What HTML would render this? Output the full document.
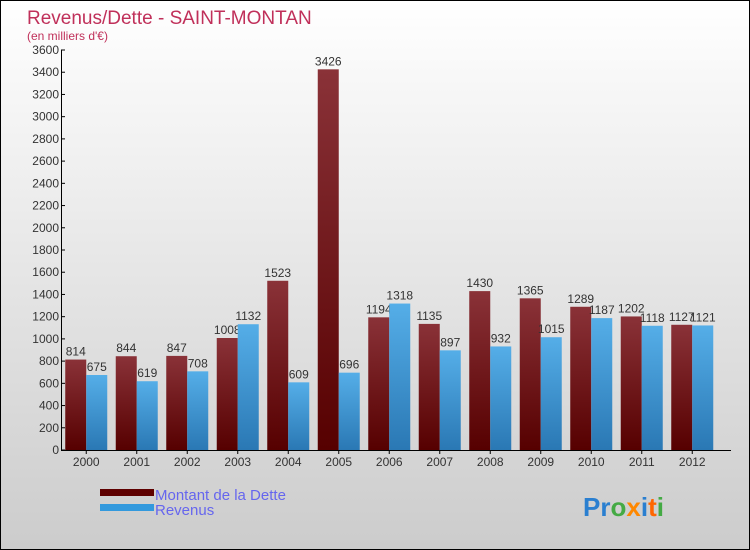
<!DOCTYPE html>
<html><head><meta charset="utf-8"><style>
body{margin:0;width:750px;height:550px;overflow:hidden}
#c{position:relative;width:748px;height:548px;border:1px solid #000;background:linear-gradient(#fff,#ccc);font-family:"Liberation Sans",sans-serif}
</style></head><body>
<div id="c">
<svg id="s" width="748" height="548" style="position:absolute;left:0;top:0">
<defs>
<linearGradient id="gd" x1="0" y1="0" x2="0" y2="1"><stop offset="0" stop-color="#8a3238"/><stop offset="1" stop-color="#560000"/></linearGradient>
<linearGradient id="gr" x1="0" y1="0" x2="0" y2="1"><stop offset="0" stop-color="#55aee8"/><stop offset="1" stop-color="#2a78b4"/></linearGradient>
</defs>
<text x="26" y="23" font-size="19" fill="#c0305a">Revenus/Dette - SAINT-MONTAN</text>
<text x="26" y="39" font-size="12" fill="#c0305a">(en milliers d'€)</text>
<g id="g"></g>
<rect x="99" y="488" width="54" height="7" fill="#5e0000"/>
<rect x="99" y="503" width="54" height="7" fill="#3399dd"/>
<text x="154" y="499" font-size="15" fill="#6666ee">Montant de la Dette</text>
<text x="154" y="514" font-size="15" fill="#6666ee">Revenus</text>
<text x="582" y="515" font-size="26" font-weight="bold"><tspan fill="#2a7fd0">Pr</tspan><tspan fill="#44aa44">o</tspan><tspan fill="#ff8800">x</tspan><tspan fill="#2a7fd0">i</tspan><tspan fill="#ff6600">t</tspan><tspan fill="#44aa44">i</tspan></text>
</svg>
</div>
<script>
const categories=["2000","2001","2002","2003","2004","2005","2006","2007","2008","2009","2010","2011","2012"];
const dette=[814,844,847,1008,1523,3426,1194,1135,1430,1365,1289,1202,1127];
const revenus=[675,619,708,1132,609,696,1318,897,932,1015,1187,1118,1121];
const yTicks=[0,200,400,600,800,1000,1200,1400,1600,1800,2000,2200,2400,2600,2800,3000,3200,3400,3600];
const NS="http://www.w3.org/2000/svg";
const g=document.getElementById('g');
const y=v=>449-v*400/3600;
const x0=60,step=50.5;
function mk(t,a,txt){const e=document.createElementNS(NS,t);for(const k in a)e.setAttribute(k,a[k]);if(txt!==undefined)e.textContent=txt;g.appendChild(e);return e;}
categories.forEach((c,i)=>{
  const cx=x0+step*i+step/2;
  let e=mk('rect',{x:cx-21,y:y(dette[i]),width:21,height:449-y(dette[i]),fill:'url(#gd)'});
  
  
  e=mk('text',{x:cx-10.5,y:y(dette[i])-4,'font-size':12,'text-anchor':'middle',fill:'#333'},String(dette[i]));
  
  
  e=mk('rect',{x:cx,y:y(revenus[i]),width:21,height:449-y(revenus[i]),fill:'url(#gr)'});
  
  
  e=mk('text',{x:cx+10.5,y:y(revenus[i])-4,'font-size':12,'text-anchor':'middle',fill:'#333'},String(revenus[i]));
  
  
  e=mk('line',{x1:cx,x2:cx,y1:449,y2:453,stroke:'#000'});
  
  
  e=mk('text',{x:cx,y:465,'font-size':12,'text-anchor':'middle',fill:'#333'},c);
  
  
});
yTicks.forEach(v=>{
  let e=mk('line',{x1:60,x2:64,y1:y(v),y2:y(v),stroke:'#000'});
  
  
  e=mk('text',{x:58,y:y(v)+4,'font-size':12,'text-anchor':'end',fill:'#333'},String(v));
  
  
});
let ax=mk('line',{x1:60.5,x2:60.5,y1:y(3600),y2:449,stroke:'#000'});


ax=mk('line',{x1:60,x2:730,y1:449.5,y2:449.5,stroke:'#000'});


</script>
</body></html>
